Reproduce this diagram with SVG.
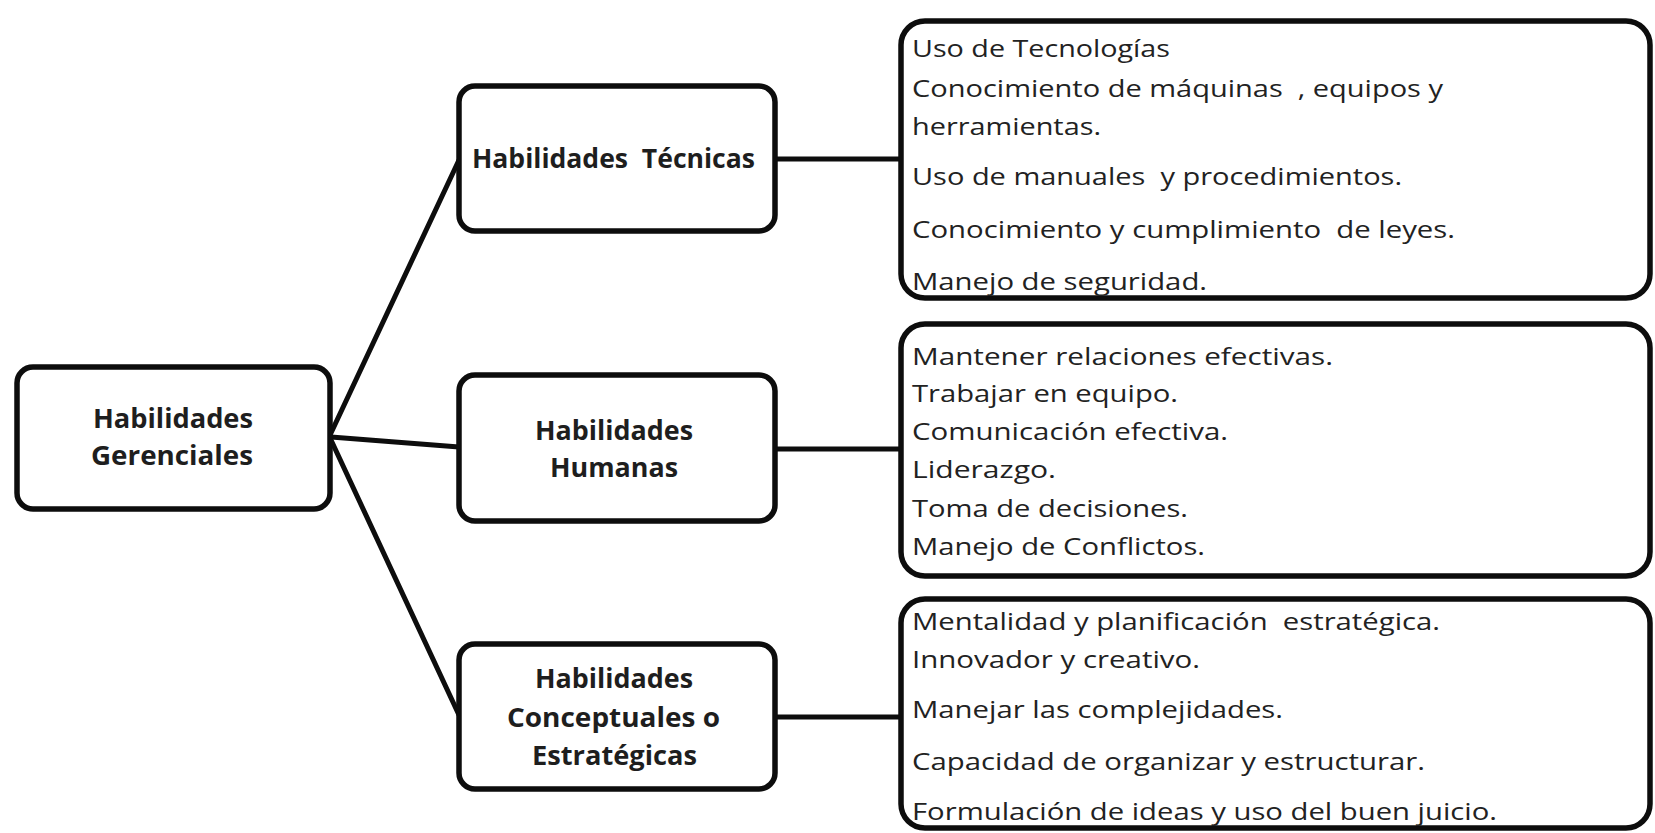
<svg xmlns="http://www.w3.org/2000/svg" width="1655" height="833" viewBox="0 0 1655 833">
<style>
.box{fill:#fff;stroke:#0d0d0d;stroke-width:5.5}
.lbl{font-family:"Open Sans","Liberation Sans",Arial,sans-serif;font-weight:bold;font-size:26px;fill:#1e1e1e;white-space:pre}
.itm{font-family:"Open Sans","Liberation Sans",Arial,sans-serif;font-size:24.5px;fill:#222;white-space:pre}
.con{stroke:#0d0d0d;stroke-width:5;fill:none;stroke-linecap:round}
</style>
<rect width="1655" height="833" fill="#fff"/>
<g id="connectors">
<line class="con" x1="331" y1="433" x2="459" y2="160"/>
<line class="con" x1="331" y1="437" x2="459" y2="447"/>
<line class="con" x1="331" y1="440" x2="459" y2="715"/>
<line class="con" x1="775" y1="159" x2="901" y2="159"/>
<line class="con" x1="775" y1="449" x2="901" y2="449"/>
<line class="con" x1="775" y1="717" x2="901" y2="717"/>
</g>
<g id="root">
<rect class="box" x="17" y="367" width="313" height="142" rx="16"/>
<text class="lbl" x="93" y="428" textLength="160" lengthAdjust="spacingAndGlyphs">Habilidades</text>
<text class="lbl" x="91" y="465" textLength="162" lengthAdjust="spacingAndGlyphs">Gerenciales</text>
</g>
<g id="tecnicas">
<rect class="box" x="459" y="86" width="316" height="145" rx="16"/>
<text class="lbl" x="472" y="168" textLength="283" lengthAdjust="spacingAndGlyphs">Habilidades  Técnicas</text>
</g>
<g id="humanas">
<rect class="box" x="459" y="375" width="316" height="146" rx="16"/>
<text class="lbl" x="535" y="440" textLength="158" lengthAdjust="spacingAndGlyphs">Habilidades</text>
<text class="lbl" x="550" y="477" textLength="128" lengthAdjust="spacingAndGlyphs">Humanas</text>
</g>
<g id="conceptuales">
<rect class="box" x="459" y="644" width="316" height="145" rx="16"/>
<text class="lbl" x="535" y="688" textLength="158" lengthAdjust="spacingAndGlyphs">Habilidades</text>
<text class="lbl" x="507" y="727" textLength="213" lengthAdjust="spacingAndGlyphs">Conceptuales o</text>
<text class="lbl" x="532" y="765" textLength="165" lengthAdjust="spacingAndGlyphs">Estratégicas</text>
</g>
<g id="tecnicas-items">
<rect class="box" x="901" y="21" width="749" height="277" rx="24"/>
<text class="itm" x="912" y="57" textLength="258" lengthAdjust="spacingAndGlyphs">Uso de Tecnologías</text>
<text class="itm" x="912" y="97" textLength="531" lengthAdjust="spacingAndGlyphs">Conocimiento de máquinas  , equipos y</text>
<text class="itm" x="912" y="135" textLength="189" lengthAdjust="spacingAndGlyphs">herramientas.</text>
<text class="itm" x="912" y="185" textLength="490" lengthAdjust="spacingAndGlyphs">Uso de manuales  y procedimientos.</text>
<text class="itm" x="912" y="238" textLength="543" lengthAdjust="spacingAndGlyphs">Conocimiento y cumplimiento  de leyes.</text>
<text class="itm" x="912" y="290" textLength="295" lengthAdjust="spacingAndGlyphs">Manejo de seguridad.</text>
</g>
<g id="humanas-items">
<rect class="box" x="901" y="324" width="749" height="252" rx="24"/>
<text class="itm" x="912" y="365" textLength="421" lengthAdjust="spacingAndGlyphs">Mantener relaciones efectivas.</text>
<text class="itm" x="912" y="402" textLength="266" lengthAdjust="spacingAndGlyphs">Trabajar en equipo.</text>
<text class="itm" x="912" y="440" textLength="316" lengthAdjust="spacingAndGlyphs">Comunicación efectiva.</text>
<text class="itm" x="912" y="478" textLength="144" lengthAdjust="spacingAndGlyphs">Liderazgo.</text>
<text class="itm" x="912" y="517" textLength="276" lengthAdjust="spacingAndGlyphs">Toma de decisiones.</text>
<text class="itm" x="912" y="555" textLength="293" lengthAdjust="spacingAndGlyphs">Manejo de Conflictos.</text>
</g>
<g id="conceptuales-items">
<rect class="box" x="901" y="599" width="749" height="229" rx="24"/>
<text class="itm" x="912" y="630" textLength="528" lengthAdjust="spacingAndGlyphs">Mentalidad y planificación  estratégica.</text>
<text class="itm" x="912" y="668" textLength="288" lengthAdjust="spacingAndGlyphs">Innovador y creativo.</text>
<text class="itm" x="912" y="718" textLength="371" lengthAdjust="spacingAndGlyphs">Manejar las complejidades.</text>
<text class="itm" x="912" y="770" textLength="513" lengthAdjust="spacingAndGlyphs">Capacidad de organizar y estructurar.</text>
<text class="itm" x="912" y="820" textLength="585" lengthAdjust="spacingAndGlyphs">Formulación de ideas y uso del buen juicio.</text>
</g>
</svg>
